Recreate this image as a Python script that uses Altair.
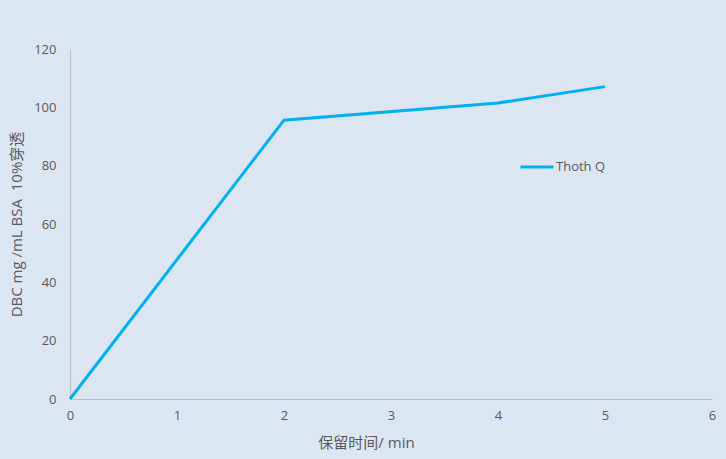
import altair as alt
import pandas as pd

# Dynamic binding capacity vs. residence time
times = [0, 2, 4, 5]
dbc = [0, 95.6, 101.5, 107.1]
series = "Thoth Q"

df = pd.DataFrame({"t": times, "dbc": dbc, "s": [series] * len(times)})

FONT = "Open Sans, Noto Sans CJK SC, sans-serif"
GREY = "#595959"

line = alt.Chart(df).mark_line(strokeWidth=3, color="#00b0f0").encode(
    x=alt.X("t:Q", scale=alt.Scale(domain=[0, 6], nice=False),
            axis=alt.Axis(title="保留时间/ min", values=[0, 1, 2, 3, 4, 5, 6],
                          format="d", grid=False, ticks=False, domainColor="#bfbfbf",
                          labelColor=GREY, labelFontSize=13, labelPadding=10, labelFlush=False,
                          titleColor=GREY, titleFontSize=15, titleFontWeight="normal",
                          titlePadding=13, titleX=296, titleAlign="center",
                          labelFont=FONT, titleFont=FONT)),
    y=alt.Y("dbc:Q", scale=alt.Scale(domain=[0, 120], nice=False),
            axis=alt.Axis(title="DBC mg /mL BSA\u00a0\u00a010%穿透", values=[0, 20, 40, 60, 80, 100, 120],
                          grid=False, ticks=False, domainColor="#bfbfbf",
                          labelColor=GREY, labelFontSize=13, labelPadding=14,
                          titleColor=GREY, titleFontSize=15, titleFontWeight="normal",
                          titlePadding=9, labelFont=FONT, titleFont=FONT)),
    stroke=alt.Stroke("s:N", scale=alt.Scale(range=["#00b0f0"]),
                      legend=alt.Legend(title=None, orient="none", legendX=449, legendY=100,
                                        symbolType="stroke", symbolStrokeWidth=3,
                                        symbolSize=1089, labelColor=GREY, labelFontSize=13,
                                        labelFont=FONT, labelOffset=1)),
)

chart = line.properties(
    width=642, height=350,
    background="#dce6f2",
    padding={"left": 70, "top": 49, "right": 14, "bottom": 60},
    autosize=alt.AutoSizeParams(type="none"),
).configure_view(stroke=None)

chart.save("out.html", embed_options={"renderer": "svg", "actions": False})
